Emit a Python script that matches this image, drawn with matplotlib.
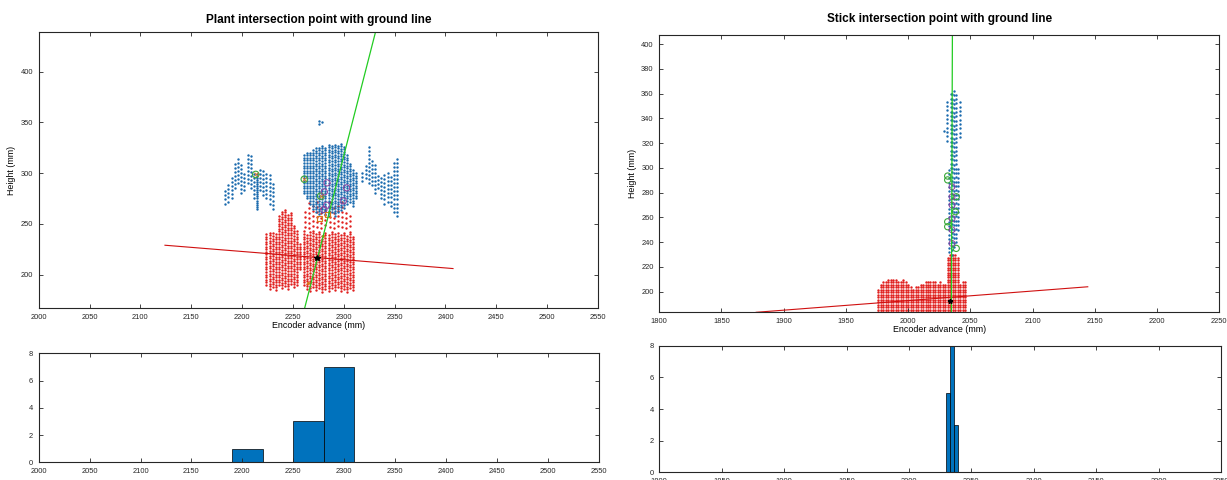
import numpy as np
import matplotlib.pyplot as plt

plt.rcParams['font.family'] = ['Liberation Sans', 'DejaVu Sans']

BLUE = '#1a6aae'
RED = '#e0201e'
HIST = '#0072bd'
GREEN = '#22cc22'
PURPLE = '#8e3f9e'
ORANGE = '#d97a19'

# ---------------- plant scan ----------------
# ground (red) scan columns: x, lowest and highest return
plant_red_x = [2224, 2227, 2230, 2233, 2236, 2239, 2242, 2245, 2248, 2251, 2254, 2257,
               2261, 2264, 2267, 2270, 2273, 2276, 2279, 2282, 2285, 2288, 2291, 2294,
               2297, 2300, 2303, 2306, 2309]
plant_red_lo = [190, 186, 188, 185, 190, 187, 189, 186, 191, 188, 190, 205,
                190, 186, 184, 188, 185, 187, 183, 186, 184, 187, 185, 188,
                184, 186, 183, 187, 185]
plant_red_hi = [240, 241, 242, 240, 258, 262, 264, 260, 262, 250, 244, 232,
                243, 240, 242, 244, 241, 243, 240, 242, 241, 243, 240, 242,
                241, 243, 240, 242, 239]
# sparse ground returns above the dense block
plant_red_top_x = [2262, 2266, 2270, 2274, 2278, 2282, 2286, 2290, 2294, 2298, 2302, 2306]
plant_red_top_lo = [247, 246, 248, 247, 246, 249, 247, 246, 248, 247, 246, 248]
plant_red_top_hi = [262, 272, 268, 274, 270, 266, 272, 270, 268, 275, 262, 258]

# plant (blue) scan columns
plant_blue_x = [2261, 2264, 2267, 2270, 2273, 2276, 2279, 2282, 2285, 2288, 2291, 2294,
                2297, 2300, 2303, 2306, 2309, 2312]
plant_blue_lo = [280, 275, 270, 265, 262, 260, 262, 260, 258, 262, 258, 262,
                 264, 266, 270, 272, 268, 275]
plant_blue_hi = [318, 320, 322, 324, 326, 327, 328, 326, 329, 328, 330, 328,
                 330, 326, 318, 310, 305, 300]
plant_left_x = [2183, 2186, 2190, 2193, 2196, 2199, 2202, 2206, 2209, 2212, 2218, 2221,
                2224, 2227, 2230]
plant_left_lo = [270, 272, 275, 285, 290, 280, 283, 290, 285, 275, 283, 278, 275, 270, 265]
plant_left_hi = [285, 290, 298, 312, 316, 308, 300, 318, 320, 300, 305, 303, 300, 298, 292]
plant_stem_x = [2215]
plant_stem_lo = [265]
plant_stem_hi = [300]
plant_right_x = [2318, 2322, 2325, 2328, 2331, 2334, 2337, 2340, 2343, 2346, 2349, 2352]
plant_right_lo = [292, 295, 290, 288, 280, 285, 275, 270, 272, 268, 262, 258]
plant_right_hi = [303, 310, 328, 315, 310, 300, 295, 300, 302, 296, 310, 315]
plant_stray_x = [2276, 2276, 2279]
plant_stray_y = [351, 348, 350]

plant_ground_line_x = [2124.2, 2407.4]
plant_ground_line_y = [228.9, 205.9]
plant_axis_line_x = [2261.5, 2331.3]
plant_axis_line_y = [166.7, 439.5]
plant_cross = (2273.4, 216.4)

plant_green_x = [2213.4, 2261.2, 2277.3]
plant_green_y = [298.7, 294.0, 277.3]
plant_purple_x = [2283.5, 2280.9, 2283.2, 2280.5, 2299.5, 2302.8]
plant_purple_y = [290.4, 281.5, 268.4, 264.1, 272.6, 285.5]
plant_square_x = [2276.0, 2284.2]
plant_square_y = [255.3, 259.5]
plant_small_x = [2279.3, 2264.5]
plant_small_y = [237.8, 191.7]

plant_edges = [2190, 2220, 2250, 2280, 2310]
plant_counts = [1, 0, 3, 7]

# ---------------- stick scan ----------------
stick_red_x = [1976, 1978, 1980, 1982, 1984, 1986, 1988, 1990, 1992, 1994, 1996, 1998,
               2000, 2002, 2004, 2006, 2008, 2010, 2012, 2014, 2016, 2018, 2020, 2022,
               2024, 2026, 2028, 2030, 2032, 2034, 2036, 2038, 2040, 2042, 2044, 2046]
stick_red_hi = [203, 206, 208, 209, 210, 211, 211, 210, 209, 209, 210, 208,
                206, 204, 203, 204, 205, 206, 207, 208, 208, 209, 209, 208,
                207, 208, 207, 206, 229, 230, 231, 230, 228, 207, 209, 209]
stick_floor = 183.5

stick_blue_x = [2031.5, 2033, 2034.5, 2035.5, 2037, 2038.5, 2040, 2041.5]
stick_blue_lo = [322, 232, 300, 230, 236, 240, 250, 325]
stick_blue_hi = [356, 300, 362, 362, 362, 360, 300, 355]
stick_stray_x = [2028.5]
stick_stray_y = [330]

stick_ground_line_x = [1877.9, 2144.4]
stick_ground_line_y = [183.4, 204.0]
stick_axis_line_x = [2034.8, 2035.6]
stick_axis_line_y = [183.4, 407.3]
stick_cross = (2033.6, 192.7)

stick_green_x = [2031.8, 2031.8, 2038.7, 2038.0, 2031.8, 2031.8, 2038.7]
stick_green_y = [293.4, 290.3, 276.7, 264.6, 256.5, 252.5, 235.0]
stick_purple_x = [2035.3, 2035.3, 2035.3, 2035.3, 2035.3, 2035.3]
stick_purple_y = [284.8, 276.7, 270.0, 259.0, 250.0, 239.0]

stick_edges = [2030.0, 2033.2, 2036.2, 2039.4]
stick_counts = [5, 8, 3]


def scan_points(xs, lo, hi, step):
    px, py = [], []
    for x, a, b in zip(xs, lo, hi):
        ys = np.arange(a, b + 0.01, step)
        px.extend([x] * len(ys))
        py.extend(ys)
    return px, py


def style(ax):
    ax.tick_params(direction='in', top=True, right=True, length=3, width=0.6,
                   labelsize=5.4, colors='#262626')
    ax.tick_params(axis='x', pad=4)
    ax.tick_params(axis='y', pad=4)
    for s in ax.spines.values():
        s.set_linewidth(0.8)
        s.set_color('#262626')


def bars(ax, edges, counts):
    widths = np.diff(edges)
    ax.bar(edges[:-1], counts, width=widths, align='edge', color=HIST,
           edgecolor='black', linewidth=0.5)


fig = plt.figure(figsize=(12.27, 4.8), dpi=100)

# plant scatter
ax1 = fig.add_axes([0.0315, 0.3577, 0.4559, 0.5763])
for xs, lo, hi, step, col in [
        (plant_red_x, plant_red_lo, plant_red_hi, 2.5, RED),
        (plant_red_top_x, plant_red_top_lo, plant_red_top_hi, 5, RED),
        (plant_blue_x, plant_blue_lo, plant_blue_hi, 2.5, BLUE),
        (plant_left_x, plant_left_lo, plant_left_hi, 4, BLUE),
        (plant_stem_x, plant_stem_lo, plant_stem_hi, 2, BLUE),
        (plant_right_x, plant_right_lo, plant_right_hi, 4, BLUE)]:
    px, py = scan_points(xs, lo, hi, step)
    ax1.scatter(px, py, s=3, c=col, marker='o', linewidths=0)
ax1.scatter(plant_stray_x, plant_stray_y, s=3, c=BLUE, linewidths=0)
ax1.plot(plant_ground_line_x, plant_ground_line_y, color='#d01010', lw=0.8)
ax1.plot(plant_axis_line_x, plant_axis_line_y, color=GREEN, lw=0.9)
ax1.scatter(plant_green_x, plant_green_y, s=22, facecolors='none', edgecolors='#3aa83a', linewidths=0.8)
ax1.scatter(plant_green_x, plant_green_y, s=8, c=ORANGE, marker='x', linewidths=0.6)
ax1.scatter(plant_purple_x, plant_purple_y, s=20, facecolors='none', edgecolors=PURPLE, linewidths=0.7)
ax1.scatter(plant_square_x, plant_square_y, s=14, marker='s', facecolors='none', edgecolors=ORANGE, linewidths=0.8)
ax1.scatter(plant_small_x, plant_small_y, s=5, c=ORANGE, linewidths=0)
ax1.plot(*plant_cross, marker='*', color='black', markersize=4)
ax1.set_xlim(2000, 2550)
ax1.set_ylim(166.7, 439.5)
ax1.set_xticks(np.arange(2000, 2551, 50))
ax1.set_yticks(np.arange(200, 401, 50))
ax1.set_title('Plant intersection point with ground line', fontsize=8.5,
              fontweight='bold', pad=6)
ax1.set_xlabel('Encoder advance (mm)', fontsize=6.4, labelpad=0)
ax1.set_ylabel('Height (mm)', fontsize=6.4, labelpad=3)
style(ax1)

# plant histogram
ax2 = fig.add_axes([0.0315, 0.0369, 0.4566, 0.2271])
bars(ax2, plant_edges, plant_counts)
ax2.set_xlim(2000, 2550)
ax2.set_ylim(0, 8)
ax2.set_xticks(np.arange(2000, 2551, 50))
ax2.set_yticks([0, 2, 4, 6, 8])
style(ax2)

# stick scatter
ax3 = fig.add_axes([0.5373, 0.3494, 0.4563, 0.5777])
px, py = scan_points(stick_red_x, [stick_floor] * len(stick_red_x), stick_red_hi, 2)
ax3.scatter(px, py, s=3, c=RED, linewidths=0)
px, py = scan_points(stick_blue_x, stick_blue_lo, stick_blue_hi, 3.5)
ax3.scatter(px, py, s=3, c=BLUE, linewidths=0)
ax3.scatter(stick_stray_x, stick_stray_y, s=3, c=BLUE, linewidths=0)
ax3.plot(stick_ground_line_x, stick_ground_line_y, color='#d01010', lw=0.8)
ax3.plot(stick_axis_line_x, stick_axis_line_y, color=GREEN, lw=0.9)
ax3.scatter(stick_green_x, stick_green_y, s=20, facecolors='none', edgecolors='#3aa83a', linewidths=0.8)
ax3.scatter(stick_purple_x, stick_purple_y, s=18, facecolors='none', edgecolors=PURPLE, linewidths=0.7)
ax3.plot(*stick_cross, marker='*', color='black', markersize=3.5)
ax3.set_xlim(1800, 2250)
ax3.set_ylim(183.4, 407.3)
ax3.set_xticks(np.arange(1800, 2251, 50))
ax3.set_yticks(np.arange(200, 401, 20))
ax3.set_title('Stick intersection point with ground line', fontsize=8.5,
              fontweight='bold', pad=9)
ax3.set_xlabel('Encoder advance (mm)', fontsize=6.4, labelpad=0)
ax3.set_ylabel('Height (mm)', fontsize=6.4, labelpad=3)
style(ax3)

# stick histogram
ax4 = fig.add_axes([0.5373, 0.0160, 0.4578, 0.2638])
bars(ax4, stick_edges, stick_counts)
ax4.set_xlim(1800, 2250)
ax4.set_ylim(0, 8)
ax4.set_xticks(np.arange(1800, 2251, 50))
ax4.set_yticks([0, 2, 4, 6, 8])
style(ax4)

fig.savefig('out.png', dpi=100)
